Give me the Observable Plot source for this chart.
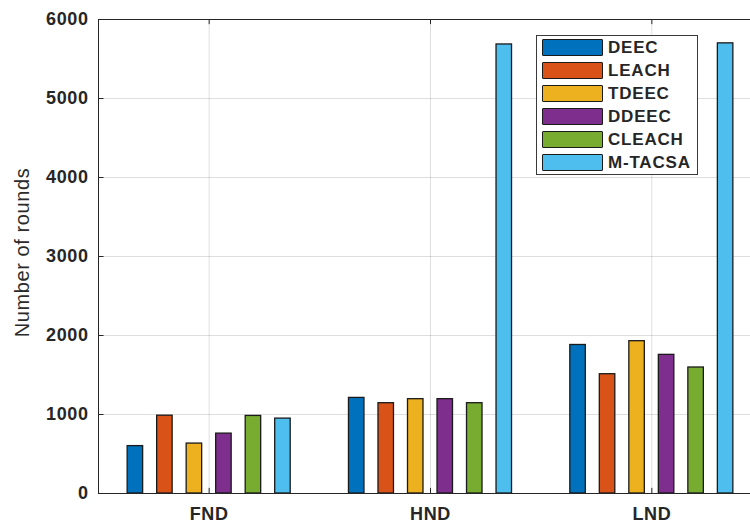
<!DOCTYPE html>
<html><head><meta charset="utf-8">
<script src="https://cdn.jsdelivr.net/npm/d3@7"></script>
<script src="https://cdn.jsdelivr.net/npm/@observablehq/plot@0.6"></script>
<style>
body{margin:0;background:#fff;}
#wrap{position:relative;width:750px;height:525px;overflow:hidden;background:#fff;}
#wrap svg text{letter-spacing:0.6px;}
.legend{position:absolute;left:536px;top:35px;width:162px;height:140px;border:1px solid #3a3a3a;background:#fff;box-sizing:border-box;font-family:"Liberation Sans",Arial,sans-serif;font-weight:bold;font-size:17px;color:#262626;}
.legend .row{display:flex;align-items:center;height:23px;}
.legend .sw{width:61px;height:17px;margin-left:5px;margin-right:5px;border:1.5px solid #1a1a1a;box-sizing:border-box;border-radius:1px;}
.legend .lab{letter-spacing:0.8px;}
</style>
</head><body>
<div id="wrap"></div>
<script>
const categories = ["FND", "HND", "LND"];
const series = ["DEEC", "LEACH", "TDEEC", "DDEEC", "CLEACH", "M-TACSA"];
const colors = ["#0072BD", "#D95319", "#EDB120", "#7E2F8E", "#77AC30", "#4DBEEE"];
const DEEC    = [600, 1210, 1880];
const LEACH   = [985, 1143, 1510];
const TDEEC   = [632, 1194, 1928];
const DDEEC   = [758, 1194, 1755];
const CLEACH  = [982, 1143, 1595];
const MTACSA  = [948, 5684, 5698];
const yTicks = [0, 1000, 2000, 3000, 4000, 5000, 6000];
const yLabel = "Number of rounds";

const values = [DEEC, LEACH, TDEEC, DDEEC, CLEACH, MTACSA];
const rows = [];
series.forEach((s, j) => categories.forEach((c, i) => rows.push({cat: c, series: s, value: values[j][i], pos: i + 1, j})));

const step = 0.8 / series.length;
const barW = 0.07;
const tickLenX = 0.025;
const tickLenY = 65;

const chart = Plot.plot({
  width: 750,
  height: 525,
  marginTop: 19,
  marginBottom: 32,
  marginLeft: 98,
  marginRight: -12,
  style: {fontFamily: "'Liberation Sans', Arial, sans-serif", fontSize: "18px", fontWeight: "bold", color: "#262626", background: "#fff"},
  x: {type: "linear", domain: [0.5, 3.5], range: [98, 762]},
  y: {domain: [0, 6000]},
  color: {domain: series, range: colors},
  marks: [
    Plot.gridY(yTicks, {stroke: "#000", strokeOpacity: 0.13, strokeWidth: 1}),
    Plot.gridX([1, 2, 3], {stroke: "#000", strokeOpacity: 0.13, strokeWidth: 1}),
    Plot.rectY(rows, {
      x1: d => d.pos + (d.j - (series.length - 1) / 2) * step - barW / 2,
      x2: d => d.pos + (d.j - (series.length - 1) / 2) * step + barW / 2,
      y1: 0, y2: "value",
      fill: "series", stroke: "#1a1a1a", strokeWidth: 1.3
    }),
    Plot.ruleY(yTicks, {x1: 0.5, x2: 0.5 + tickLenX, stroke: "#262626"}),
    Plot.ruleX([1, 2, 3], {y1: 0, y2: tickLenY, stroke: "#262626"}),
    Plot.ruleX([1, 2, 3], {y1: 6000 - tickLenY, y2: 6000, stroke: "#262626"}),
    Plot.frame({stroke: "#262626", strokeWidth: 1}),
    Plot.axisY(yTicks, {tickSize: 0, tickPadding: 10, label: null, tickFormat: d => String(d)}),
    Plot.axisX([1, 2, 3], {tickSize: 0, tickPadding: 14, label: null, tickFormat: d => categories[d - 1]}),
    Plot.text([yLabel], {frameAnchor: "left", textAnchor: "middle", rotate: -90, dx: -76, dy: -4, fontSize: 20, fontWeight: "normal", fill: "#2b2b2b"})
  ]
});
const wrap = document.getElementById("wrap");
wrap.appendChild(chart);

const legend = document.createElement("div");
legend.className = "legend";
series.forEach((s, j) => {
  const row = document.createElement("div");
  row.className = "row";
  const sw = document.createElement("div");
  sw.className = "sw";
  sw.style.background = colors[j];
  const lab = document.createElement("span");
  lab.className = "lab";
  lab.textContent = s;
  row.appendChild(sw);
  row.appendChild(lab);
  legend.appendChild(row);
});
wrap.appendChild(legend);
</script>
</body></html>
